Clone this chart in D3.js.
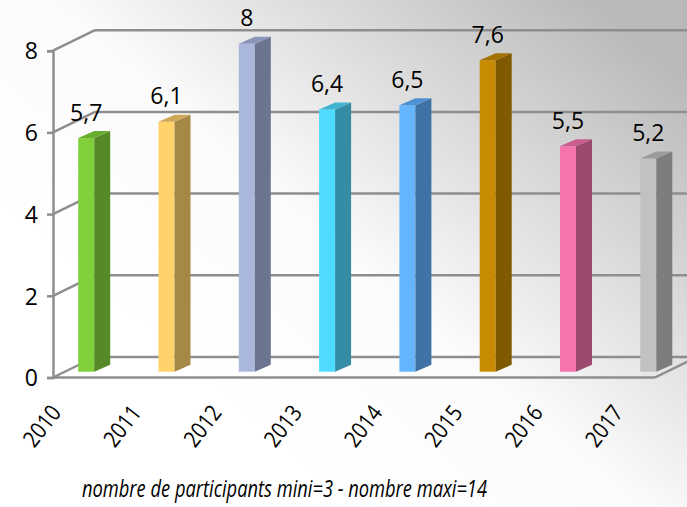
<!DOCTYPE html>
<html>
<head>
<meta charset="utf-8">
<script src="https://cdn.jsdelivr.net/npm/d3@7"></script>
<style>
  html, body { margin: 0; padding: 0; background: #fff; }
  svg { display: block; }
  text { font-family: "Open Sans", "Noto Sans", sans-serif; fill: #000; }
</style>
</head>
<body>
<svg id="chart" width="687" height="507"></svg>
<script>
// data
var years = ["2010", "2011", "2012", "2013", "2014", "2015", "2016", "2017"];
var values = [5.7, 6.1, 8, 6.4, 6.5, 7.6, 5.5, 5.2];
var labels = ["5,7", "6,1", "8", "6,4", "6,5", "7,6", "5,5", "5,2"];
var yTicks = [0, 2, 4, 6, 8];
var frontColors = ["#80cf3b", "#ffd369", "#a9b7dd", "#4fdbff", "#64b5fd", "#c68b00", "#f574ad", "#c1c1c1"];
var sideColors  = ["#558a27", "#a58845", "#6b7590", "#358da5", "#3f73a5", "#7f5a00", "#9c4a6f", "#7d7d7d"];
var topColors   = ["#68ac30", "#cfa857", "#8a95b8", "#3fb3d0", "#4f92d2", "#a37200", "#c95d8e", "#9c9c9c"];
var footer = "nombre de participants mini=3 - nombre maxi=14";

var svg = d3.select("#chart");
var W = 687, H = 507;

// depth vector of the 3d box
var depthX = 42, depthY = -20.5;
var axisX = 53, floorRight = 655;

var defs = svg.append("defs");
var grad = defs.append("linearGradient").attr("id", "bg")
    .attr("x1", "30%").attr("y1", "75%").attr("x2", "100%").attr("y2", "15%");
grad.append("stop").attr("offset", "0").attr("stop-color", "#ffffff");
grad.append("stop").attr("offset", "0.35").attr("stop-color", "#fbfbfb");
grad.append("stop").attr("offset", "1").attr("stop-color", "#b9b9b9");

svg.append("rect").attr("width", W).attr("height", H).attr("fill", "url(#bg)");

// front plane scale and bar scale (bars sit a bit inside the box)
var y = d3.scaleLinear().domain([0, 8]).range([377.5, 50.7]);
var yb = d3.scaleLinear().domain([0, 8]).range([371.7, 43.8]);
var x = d3.scalePoint().domain(years).range([86.2, 648.3]);

var gridColor = "#8e8e8e";
var grid = svg.append("g");

// back wall gridlines
grid.selectAll(".back")
    .data(yTicks)
    .enter().append("line")
    .attr("x1", axisX + depthX).attr("x2", W + 5)
    .attr("y1", function(d) { return y(d) + depthY; })
    .attr("y2", function(d) { return y(d) + depthY; })
    .attr("stroke", gridColor).attr("stroke-width", 2.5);

// side wall diagonals
grid.selectAll(".diag")
    .data(yTicks)
    .enter().append("line")
    .attr("x1", axisX).attr("y1", function(d) { return y(d); })
    .attr("x2", axisX + depthX).attr("y2", function(d) { return y(d) + depthY; })
    .attr("stroke", gridColor).attr("stroke-width", 2.5);

// floor front edge and right edge
grid.append("line")
    .attr("x1", axisX).attr("x2", floorRight)
    .attr("y1", y(0)).attr("y2", y(0))
    .attr("stroke", gridColor).attr("stroke-width", 2.5);
grid.append("line")
    .attr("x1", floorRight).attr("y1", y(0))
    .attr("x2", floorRight + depthX).attr("y2", y(0) + depthY)
    .attr("stroke", gridColor).attr("stroke-width", 2.5);

// value axis
var yAxis = svg.append("g")
    .attr("transform", "translate(" + axisX + ",0)")
    .call(d3.axisLeft(y).tickValues(yTicks).tickSize(6).tickPadding(9));
yAxis.select(".domain").attr("stroke", gridColor).attr("stroke-width", 2.5);
yAxis.selectAll(".tick line").attr("stroke", gridColor).attr("stroke-width", 2.5);
yAxis.selectAll(".tick text")
    .style("font-size", "23px")
    .attr("fill", "#000")
    .attr("dy", "0.36em");

// bars
var bw = 16, bd = 16, bdy = -7;
var bars = svg.selectAll(".bar")
    .data(years)
    .enter().append("g").attr("class", "bar");

bars.append("rect")
    .attr("x", function(d) { return x(d) - bw / 2; })
    .attr("y", function(d, i) { return yb(values[i]); })
    .attr("width", bw)
    .attr("height", function(d, i) { return yb(0) - yb(values[i]); })
    .attr("fill", function(d, i) { return frontColors[i]; });

bars.append("path")
    .attr("d", function(d, i) {
      var r = x(d) + bw / 2, t = yb(values[i]), b = yb(0);
      return "M" + r + "," + t + "L" + (r + bd) + "," + (t + bdy) +
             "L" + (r + bd) + "," + (b + bdy) + "L" + r + "," + b + "Z";
    })
    .attr("fill", function(d, i) { return sideColors[i]; });

bars.append("path")
    .attr("d", function(d, i) {
      var l = x(d) - bw / 2, r = x(d) + bw / 2, t = yb(values[i]);
      return "M" + l + "," + t + "L" + r + "," + t + "L" + (r + bd) + "," + (t + bdy) +
             "L" + (l + bd) + "," + (t + bdy) + "Z";
    })
    .attr("fill", function(d, i) { return topColors[i]; });

// value labels
svg.selectAll(".val")
    .data(years)
    .enter().append("text")
    .attr("x", function(d) { return x(d); })
    .attr("y", function(d, i) { return yb(values[i]) - 17.5; })
    .attr("text-anchor", "middle")
    .style("font-size", "23px")
    .text(function(d, i) { return labels[i]; });

// category labels: steep and a little narrow, like the original
svg.selectAll(".cat")
    .data(years)
    .enter().append("text")
    .attr("transform", function(d) {
      return "translate(" + (x(d) - 24) + ",413) rotate(-52) scale(0.86,1)";
    })
    .attr("text-anchor", "end")
    .style("font-size", "23px")
    .text(function(d) { return d; });

// footer note
svg.append("text")
    .attr("x", 82).attr("y", 497)
    .attr("textLength", 405)
    .attr("lengthAdjust", "spacingAndGlyphs")
    .style("font-size", "23px")
    .style("font-style", "italic")
    .text(footer);
</script>
</body>
</html>
